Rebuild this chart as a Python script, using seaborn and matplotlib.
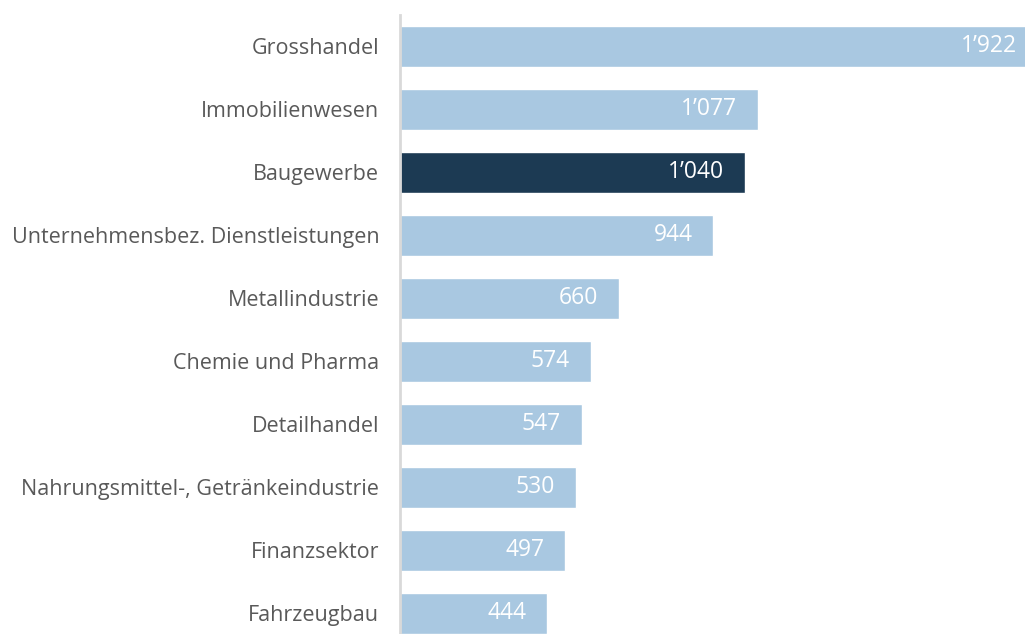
import matplotlib
matplotlib.use("Agg")
import matplotlib.pyplot as plt
import seaborn as sns
import pandas as pd

categories = ["Grosshandel", "Immobilienwesen", "Baugewerbe",
              "Unternehmensbez. Dienstleistungen", "Metallindustrie",
              "Chemie und Pharma", "Detailhandel",
              "Nahrungsmittel-, Getränkeindustrie", "Finanzsektor", "Fahrzeugbau"]
values = [1922, 1077, 1040, 944, 660, 574, 547, 530, 497, 444]
highlight = ["Baugewerbe"]

sns.set_theme(style="white")
plt.rcParams['font.family'] = ['Open Sans', 'DejaVu Sans']

df = pd.DataFrame({"cat": categories, "val": values})
df["grp"] = ["hi" if c in highlight else "lo" for c in categories]

fig = plt.figure(figsize=(10.25, 6.34), dpi=100)
ax = fig.add_axes([400/1025, 0, 1 - 400/1025, (634-15)/634])
sns.barplot(data=df, y="cat", x="val", hue="grp", orient="h",
            palette={"lo": "#A9C8E1", "hi": "#1C3A53"}, dodge=False,
            width=0.65, legend=False, ax=ax, saturation=1)

ax.set_xlim(0, 1882)
ax.set_ylim(9.33, -0.5)
ax.set_xlabel("")
ax.set_ylabel("")
ax.set_xticks([])
for s in ["top", "right", "bottom"]:
    ax.spines[s].set_visible(False)
ax.spines["left"].set_color("#D9D9D9")
ax.spines["left"].set_linewidth(2)
ax.tick_params(axis="y", length=0, pad=15, labelsize=15.5, labelcolor="#595959")

for i, v in enumerate(values):
    s = f"{v:,}".replace(",", "\u2019")
    ax.annotate(s, xy=(v, i), xytext=(-21, 0), textcoords="offset pixels",
                ha="right", va="center", color="white", fontsize=16.5,
                annotation_clip=False)

fig.savefig("out.png", dpi=100)
